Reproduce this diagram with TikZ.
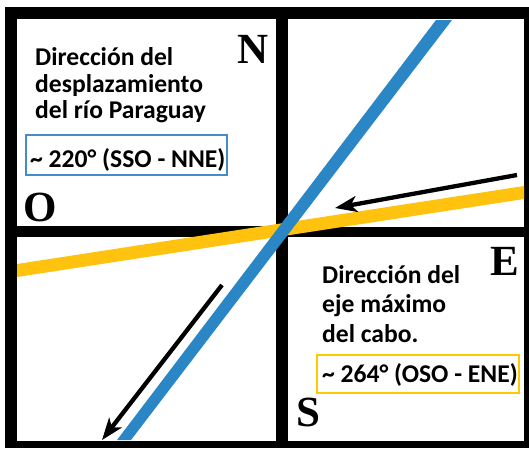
\documentclass[tikz,border=0pt]{standalone}
\usepackage{fontspec}
\newfontfamily\labfont{Carlito}
\newfontfamily\compfont{Liberation Serif}
\usetikzlibrary{arrows.meta}
\definecolor{riverblue}{RGB}{42,134,197}
\definecolor{capegold}{RGB}{255,194,14}
\definecolor{boxblue}{RGB}{70,140,205}
\definecolor{boxgold}{RGB}{255,200,0}
\begin{document}
\begin{tikzpicture}[x=1pt,y=-1pt,
  lab/.style={font=\labfont\bfseries\fontsize{25.6}{30}\selectfont, anchor=base west, inner sep=0pt},
  compass/.style={font=\compfont\bfseries\fontsize{43}{50}\selectfont, anchor=base west, inner sep=0pt},
  arr/.style={line width=4.3pt, -{Stealth[length=22pt,width=16pt,inset=6pt]}}]
\path[use as bounding box, fill=white] (0,0) rectangle (529,448);
% frame
\fill[black] (5,7) rectangle (529,448);
\fill[white] (17,19) rectangle (276,226);
\fill[white] (288,19) rectangle (524,227);
\fill[white] (17,237) rectangle (276,441);
\fill[white] (288,237) rectangle (524,441);
% cape axis (yellow) and river (blue)
\fill[capegold] (17,264) -- (17,277) -- (524,199) -- (524,186) -- cycle;
\fill[riverblue] (436,20) -- (452,20) -- (131,440) -- (117,440) -- cycle;
% arrows
\coordinate (a1s) at (517,175);
\coordinate (a1e) at (335,208);
\coordinate (a2s) at (222,285);
\coordinate (a2e) at (102,440);
\draw[arr] (a1s) -- (a1e);
\draw[arr] (a2s) -- (a2e);
% compass letters
\node[compass] (N) at (237,63) {N};
\node[compass] (O) at (23,221) {O};
\node[compass] (E) at (490,275) {E};
\node[compass] (S) at (296,426) {S};
% top-left text
\node[lab] (tl1) at (35,65) {Dirección del};
\node[lab] (tl2) at (35,92) {desplazamiento};
\node[lab] (tl3) at (35,118) {del río Paraguay};
\draw[boxblue, line width=1.4pt] (26,135) rectangle (227,175);
\node[lab] (tlv) at (30,167) {\textasciitilde{} 220° (SSO - NNE)};
% bottom-right text
\node[lab] (br1) at (322,283) {Dirección del};
\node[lab] (br2) at (322,312) {eje máximo};
\node[lab] (br3) at (322,342) {del cabo.};
\draw[boxgold, line width=1.4pt] (317,355) rectangle (519,393);
\node[lab] (brv) at (322,382) {\textasciitilde{} 264° (OSO - ENE)};
\end{tikzpicture}
\end{document}
